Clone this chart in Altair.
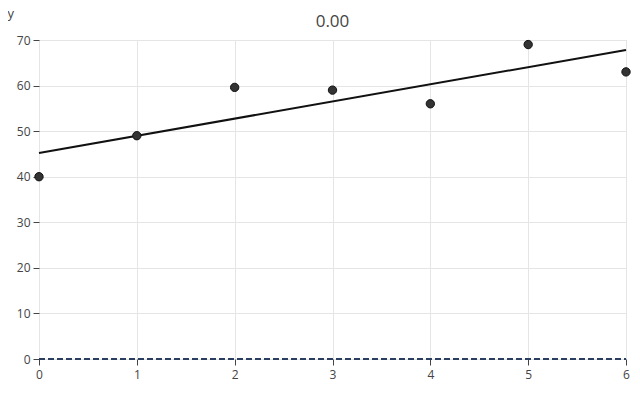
import altair as alt
import pandas as pd

xs = [0, 1, 2, 3, 4, 5, 6]
ys = [40, 49, 59.6, 59, 56, 69, 63]
title_text = "0.00"

df = pd.DataFrame({"x": xs, "y": ys})
zero_df = pd.DataFrame({"x0": [0], "x1": [6], "y": [0]})

FONT = "Open Sans"

xscale = alt.Scale(domain=[0, 6], nice=False, zero=False)
yscale = alt.Scale(domain=[0, 70], nice=False)

xaxis = alt.Axis(values=xs, format="d", grid=True, gridColor="#e5e5e5", domain=False,
                 ticks=True, tickColor="#444", tickSize=6, labelPadding=4, labelFlush=False,
                 labelColor="#444", labelFont=FONT, labelFontSize=12,
                 title="x →", titleFont=FONT, titleFontSize=13, titleFontWeight="normal",
                 titleColor="#444", titleX=586, titleY=37, titleAlign="left", titleBaseline="alphabetic")
yaxis = alt.Axis(values=[0, 10, 20, 30, 40, 50, 60, 70], grid=True, gridColor="#e5e5e5",
                 domain=False, ticks=True, tickColor="#444", tickSize=6, labelPadding=3,
                 labelFlush=False,
                 labelColor="#444", labelFont=FONT, labelFontSize=12,
                 title="y", titleAngle=0, titleFont=FONT, titleFontSize=13,
                 titleFontWeight="normal", titleColor="#444",
                 titleX=-32, titleY=-27, titleAlign="left", titleBaseline="middle")

base = alt.Chart(df)

zero_line = alt.Chart(zero_df).mark_rule(color="#2a3f5f", strokeDash=[6, 3], strokeWidth=2).encode(
    x=alt.X("x0:Q", scale=xscale, axis=xaxis),
    x2="x1:Q",
    y=alt.Y("y:Q", scale=yscale, axis=yaxis),
)

reg = base.transform_regression("x", "y").mark_line(color="#111", strokeWidth=2).encode(
    x=alt.X("x:Q", scale=xscale),
    y=alt.Y("y:Q", scale=yscale),
)

pts = base.mark_point(filled=True, size=70, color="#333", stroke="#111", strokeWidth=1, opacity=1).encode(
    x=alt.X("x:Q", scale=xscale),
    y=alt.Y("y:Q", scale=yscale),
)

chart = alt.layer(zero_line, reg, pts).properties(
    width=587, height=319,
    title=alt.TitleParams(title_text, font=FONT, fontSize=17, fontWeight="normal",
                          color="#444", anchor="middle", offset=-24),
    autosize=alt.AutoSizeParams(type="none"),
    padding={"left": 31, "top": 32, "right": 6, "bottom": 25},
).configure_view(stroke=None).configure(background="white")

chart.save("out.html", embed_options={"renderer": "svg", "actions": False})
